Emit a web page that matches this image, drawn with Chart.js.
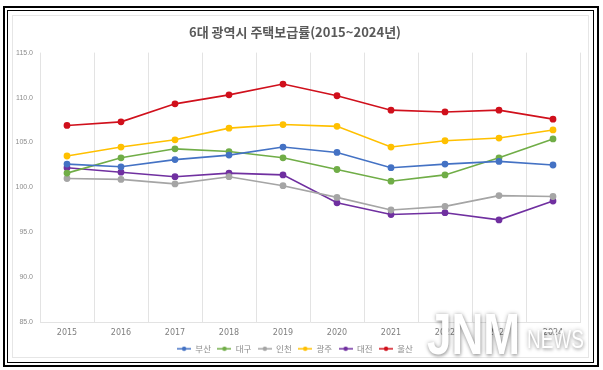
<!DOCTYPE html>
<html>
<head>
<meta charset="utf-8">
<script src="https://cdn.jsdelivr.net/npm/chart.js@4"></script>
<style>
  html, body { margin: 0; padding: 0; background: #fff; }
  #wrap { position: relative; width: 603px; height: 370px; overflow: hidden; }
  .frame { position: absolute; box-sizing: border-box; }
  #outer { left: 3px; top: 6px; width: 596px; height: 361px; border: 2px solid #000; }
  #inner { left: 7px; top: 10px; width: 587px; height: 353px; border: 1.5px solid #000; }
  #soft { left: 12px; top: 15px; width: 577px; height: 343px; border: 1px solid #e6e6e6; }
  canvas { position: absolute; left: 0; top: 0; }
  #wm { position: absolute; left: 427px; top: 305px; font-family: "Liberation Sans", sans-serif; color: #fff;
        line-height: 1; white-space: nowrap; transform: scaleX(0.76); transform-origin: 0 0;
        text-shadow: 0 0 5px rgba(0,0,0,0.3), 1px 2px 4px rgba(0,0,0,0.25); }
  #wm .big { font-size: 58px; font-weight: bold; }
  #wm .small { font-size: 25px; margin-left: 9px; position: relative; top: -6px; }
</style>
</head>
<body>
<div id="wrap">
  <div class="frame" id="outer"></div>
  <div class="frame" id="inner"></div>
  <div class="frame" id="soft"></div>
  <canvas id="chart" width="603" height="370"></canvas>
  <div id="wm"><span class="big">JNM</span><span class="small">NEWS</span></div>
</div>
<script>
const years = ['2015', '2016', '2017', '2018', '2019', '2020', '2021', '2022', '2023', '2024'];
const busan   = [102.6, 102.3, 103.1, 103.6, 104.5, 103.9, 102.2, 102.6, 102.9, 102.5];
const daegu   = [101.6, 103.3, 104.3, 104.0, 103.3, 102.0, 100.7, 101.4, 103.3, 105.4];
const incheon = [101.0, 100.9, 100.4, 101.2, 100.2, 98.9, 97.5, 97.9, 99.1, 99.0];
const gwangju = [103.5, 104.5, 105.3, 106.6, 107.0, 106.8, 104.5, 105.2, 105.5, 106.4];
const daejeon = [102.2, 101.7, 101.2, 101.6, 101.4, 98.3, 97.0, 97.2, 96.4, 98.5];
const ulsan   = [106.9, 107.3, 109.3, 110.3, 111.5, 110.2, 108.6, 108.4, 108.6, 107.6];

const seriesNames = ['부산', '대구', '인천', '광주', '대전', '울산'];
const seriesData = [busan, daegu, incheon, gwangju, daejeon, ulsan];
const colors = ['#4472C4', '#70AD47', '#A5A5A5', '#FFC000', '#7030A0', '#D0101C'];

// small line+dot marker for the legend
function legendMark(color) {
  const c = document.createElement('canvas');
  c.width = 14; c.height = 6;
  const g = c.getContext('2d');
  g.strokeStyle = color; g.lineWidth = 1.5;
  g.beginPath(); g.moveTo(0, 3); g.lineTo(14, 3); g.stroke();
  g.fillStyle = color;
  g.beginPath(); g.arc(7, 3, 2.2, 0, Math.PI * 2); g.fill();
  return c;
}

const datasets = seriesNames.map((name, i) => ({
  label: name,
  data: seriesData[i],
  borderColor: colors[i],
  backgroundColor: colors[i],
  borderWidth: 1.6,
  pointRadius: 2.6,
  pointHoverRadius: 2.6,
  tension: 0
}));

new Chart(document.getElementById('chart'), {
  type: 'line',
  data: { labels: years, datasets },
  options: {
    responsive: false,
    animation: false,
    layout: { padding: { left: 10, right: 23, top: 16, bottom: 7 } },
    plugins: {
      title: {
        display: true,
        text: '6대 광역시 주택보급률(2015~2024년)',
        color: '#595959',
        font: { family: '"Noto Sans CJK KR", sans-serif', size: 13, weight: 'bold' },
        padding: { top: 8, bottom: 13 }
      },
      legend: {
        position: 'bottom',
        labels: {
          color: '#8c8c8c',
          font: { family: '"Noto Sans CJK KR", sans-serif', size: 8.5 },
          usePointStyle: true,
          pointStyleWidth: 14,
          boxWidth: 14,
          boxHeight: 6,
          padding: 6.5,
          generateLabels: chart => chart.data.datasets.map((ds, i) => ({
            text: ds.label,
            fillStyle: ds.borderColor,
            strokeStyle: ds.borderColor,
            fontColor: '#8c8c8c',
            pointStyle: legendMark(ds.borderColor),
            datasetIndex: i,
            hidden: false
          }))
        }
      },
      tooltip: { enabled: false }
    },
    scales: {
      x: {
        offset: true,
        grid: { display: true, color: '#e3e3e3', offset: true, drawTicks: false },
        border: { display: true, color: '#e3e3e3' },
        ticks: {
          color: '#7f7f7f',
          padding: 6,
          font: { family: '"DejaVu Sans", sans-serif', size: 8 }
        },
        // pull the legend a little closer to the year labels
        afterFit: s => { s.height -= 6; }
      },
      y: {
        min: 85,
        max: 115,
        grid: { display: false, drawTicks: false },
        border: { display: false },
        ticks: {
          stepSize: 5,
          color: '#8c8c8c',
          padding: 7,
          font: { family: '"Liberation Sans", sans-serif', size: 7 },
          callback: v => v.toFixed(1)
        },
        afterFit: s => { s.width = 30; }
      }
    }
  }
});
</script>
</body>
</html>
